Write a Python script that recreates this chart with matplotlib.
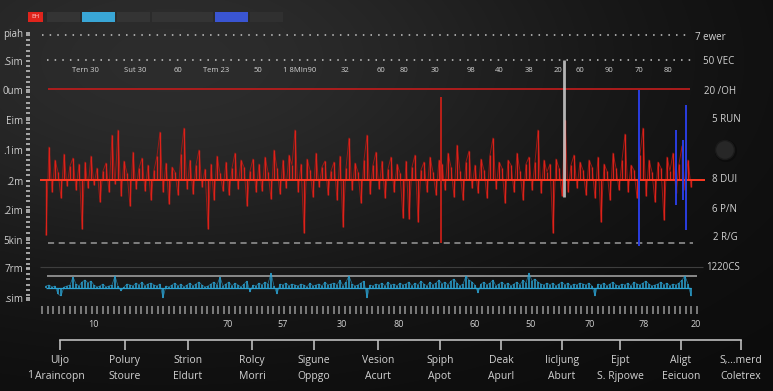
import numpy as np
import matplotlib
matplotlib.use("Agg")
import matplotlib.pyplot as plt
from matplotlib.patches import Rectangle, Circle

# ---------------- data ----------------
red = [
    -55, 33, -12, 20, 8, -18, 26, -6, 14, 22, -10, 16,
    -49, 18, -8, 24, -5, 12, -22, 9, 17, -12, 45, -4,
    50, -16, 19, 7, -26, 28, -9, 12, 22, -11, 15, -20,
    10, 24, 48, -12, 17, -24, 13, 8, -15, 26, 52, -9,
    20, -14, 15, 30, -7, 11, -49, 16, -20, 24, 7, -11,
    18, -15, 12, 27, -9, 20, 13, -26, 9, 21, -12, 16,
    -11, 23, 8, -19, 30, 12, -14, 20, -8, 25, 15, 50,
    -12, 16, -53, 21, 10, -17, 27, -7, 13, 19, -15, 9,
    18, -20, 24, -47, 12, 42, -10, 17, 8, -23, 20, 45,
    -14, 15, 28, -9, 19, -18, 11, 23, -12, 16, 7, -38,
    19, -39, 13, 25, -42, 10, 18, -12, 23, 8, -15, 20,
    16, -10, 27, 13, -17, 35, 9, -20, 18, 29, -8, 15,
    -13, 21, 10, -18, 25, 42, -9, 18, 12, -23, 20, 15,
    -12, 27, 9, -20, 16, 23, -10, 18, 50, -13, 20, 8,
    16, -53, 21, 12, -16, 60, -12, 15, 25, -8, 18, 10,
    -15, 20, 13, -18, 23, -42, 16, 9, -20, 27, 12, -10,
    20, 46, -12, 15, 10, -18, 25, 52, -16, 20, 8, -22,
    18, 12, -40, 23, 9, 27, -13, 16, 34, -10, 20, -7,
]
blue = [
    2, 3, 1, 2, -6, -8, 1, 2, 3, 11, 4, 2,
    6, 8, 5, 7, 3, 1, 2, 4, 1, 2, 3, 12,
    2, -3, 1, 4, 3, 2, 5, 3, 6, 2, 4, 5,
    3, 2, 4, -10, 2, 1, 3, 5, 2, 4, 1, 3,
    5, 2, 4, 6, 3, 1, 2, 4, 6, 3, 11, 2,
    4, 6, 2, 5, 3, 1, 4, 7, -4, 3, 2, 5,
    3, 6, 4, 15, 2, -6, 4, 3, 5, 2, 4, 3,
    2, 4, 3, 1, 5, 2, 3, 4, 2, 6, 3, 4,
    5, 3, 8, 2, 6, 12, 4, 2, 3, 5, 7, -10,
    3, 2, 4, 3, 5, 2, 6, 3, 4, 2, 5, 3,
    4, 6, 2, 5, 3, 7, 4, 2, 6, 3, 5, 8,
    4, 6, 3, 7, 9, 5, 2, 4, 12, 8, 6, 3,
    -5, 4, 6, 3, 5, 8, 2, 4, 6, 3, 5, 2,
    4, 6, 3, 8, 5, 15, 7, 9, 6, 4, 3, 5,
    3, 5, 2, 4, 6, 3, 5, 2, 4, 3, 5, 4,
    3, 5, 2, -8, 4, 3, 5, 2, 4, 6, 3, 2,
    4, 3, 5, 2, 6, 4, 3, 5, 7, 4, 2, 3,
    4, 6, 3, 5, 2, 4, 3, 5, 8, 12, 4, -8,
]
# accent spikes (series index, high, low)
accent_red_x, accent_red_hi, accent_red_lo = [131.7], [83], [-63]
accent_white_x, accent_white_hi, accent_white_lo = [172.7], [120], [-17]
accent_blue_x = [197.7, 210.0, 212.3, 213.3]
accent_blue_hi = [90, 50, 40, 75]
accent_blue_lo = [-66, -25, -20, -50]
# reference levels
level_red = 91
level_dot1 = 145
level_dot2 = 120
level_dash = -63

left_labels = ["piah", ".Sim", "0um", "Eim", ".1im", ".2m", ".2im", "5kin", "7rm", ".sim"]
right_labels = ["7 ewer", "50 VEC", "20 /OH", "5 RUN", "8 DUI", "6 P/N", "2 R/G", "1220CS"]
top_labels = ["Tern 30", "Sut 30", "60", "Tem 23", "50", "1 8MIn90", "32", "60", "80",
              "30", "98", "40", "38", "20", "60", "90", "70", "80"]
scale_labels = ["10", "70", "57", "30", "80", "60", "50", "70", "78", "20"]
cat_top = ["Uljo", "Polury", "Strion", "Rolcy", "Sigune", "Vesion", "Spiph", "Deak",
           "Iicljung", "Ejpt", "Aligt", "S,...merd"]
cat_bottom = ["Araincopn", "Stoure", "Eldurt", "Morri", "Oppgo", "Acurt", "Apot", "Apurl",
              "Aburt", "S. Rjpowe", "Eeicuon", "Coletrex"]

# ---------------- layout ----------------
W, H = 773, 391
plt.rcParams['font.family'] = ['Open Sans', 'DejaVu Sans']
fig = plt.figure(figsize=(W / 100, H / 100), dpi=100)
TXT = '#d2d2d2'


def px_axes(x0, y0, x1, y1):
    a = fig.add_axes([x0 / W, 1 - y1 / H, (x1 - x0) / W, (y1 - y0) / H])
    a.set_facecolor('none')
    return a


# background
bg = fig.add_axes([0, 0, 1, 1])
bg.set_xlim(0, W)
bg.set_ylim(H, 0)
bg.axis('off')
yy, xx = np.mgrid[0:H, 0:W]
g = np.exp(-(((xx - 170) / 450.0) ** 2 + ((yy - 60) / 230.0) ** 2))
v = 0.045 + 0.13 * g
img = np.dstack([v, v, v])
bg.imshow(img, extent=(0, W, H, 0), aspect='auto', zorder=0)

# legend-like boxes
boxes = [(28, 43, '#e0241c'), (47, 80, '#343434'), (82, 115, '#39a6d6'), (117, 150, '#343434'),
         (152, 213, '#343434'), (215, 248, '#3a55d2'), (250, 283, '#303030')]
for x0, x1, c in boxes:
    bg.add_patch(Rectangle((x0, 12), x1 - x0, 10, fc=c, ec='none', zorder=2))
bg.text(35.5, 17, "EH", fontsize=4.5, color='#ffd0d0', ha='center', va='center', zorder=3)

# knob
bg.add_patch(Circle((726, 151), 11, fc='#0c0c0c', ec='none', zorder=2))
bg.add_patch(Circle((725, 150), 9.5, fc='#272727', ec='#1a1a1a', lw=1, zorder=3))

# top row labels
top_x = [85, 135, 178, 216, 258, 300, 345, 381, 404, 435, 471, 499, 529, 558, 580, 609, 639, 668]
for t, xp in zip(top_labels, top_x):
    bg.text(xp, 71, t, fontsize=5.5, color=TXT, ha='center', va='center', zorder=3)

# right labels
right_pos = [(695, 37), (703, 61), (704, 91), (712, 120), (712, 180), (712, 209), (713, 238), (706, 267)]
for t, (xp, ypp) in zip(right_labels, right_pos):
    bg.text(xp, ypp, t, fontsize=7, color=TXT, ha='left', va='center', zorder=3)

bg.text(30, 376, "1", fontsize=7.5, color=TXT, ha='center', va='center', zorder=3)

# ---------------- main red panel ----------------
ax = px_axes(40, 25, 705, 255)
ax.set_xlim(-2, 219.667)
ax.set_ylim(-75, 155)
ax.axis('off')
x = np.arange(len(red))
ax.hlines(level_dot1, -1.33, 214.67, color='#c8c8c8', lw=1.1, linestyles=(0, (1, 4)))
ax.hlines(level_dot2, 0.33, 216.33, color='#c8c8c8', lw=1.1, linestyles=(0, (1, 4)))
ax.hlines(level_red, 0.67, 214.67, color='#b81c1c', lw=1.3)
ax.hlines(level_dash, 0.67, 215.67, color='#9a9a9a', lw=1.1, linestyles=(0, (4, 3)))
ax.plot(x, red, color='#b81812', lw=0.7, alpha=0.8)
ax.vlines(x, 0, red, color='#e3231b', lw=1.0, alpha=0.95)
ax.hlines(0, -2, 219.667, color='#ff3a22', lw=1.4)
ax.vlines(accent_red_x, accent_red_lo, accent_red_hi, color='#d42018', lw=1.2)
ax.vlines(accent_white_x, accent_white_lo, accent_white_hi, color='#cfcfcf', lw=2, alpha=0.85)
ax.vlines(accent_blue_x, accent_blue_lo, accent_blue_hi, color='#2a3ee0', lw=1.4)

# ---------------- blue panel ----------------
axb = px_axes(40, 262, 705, 302)
axb.set_xlim(-2, 219.667)
axb.set_ylim(-14, 26)
axb.axis('off')
xb = np.arange(len(blue))
axb.hlines(21, -2, 219.0, color='#3e3e3e', lw=0.8)
axb.hlines(12, 0.33, 217.0, color='#9d9d9d', lw=1.2)
axb.vlines(xb, 0, blue, color='#2ba3d3', lw=1.1)
axb.plot(xb, blue, color='#2ba3d3', lw=0.5, alpha=0.7)
axb.hlines(0.5, 0, len(blue) - 1, color='#2ba3d3', lw=0.9)

# ---------------- left axis ----------------
axl = px_axes(30, 25, 31, 305)
axl.set_ylim(305, 25)
for s in axl.spines.values():
    s.set_visible(False)
axl.set_xticks([])
left_y = [33, 61, 90, 120, 150, 181, 210, 240, 268, 298]
axl.set_yticks(left_y)
axl.set_yticklabels(left_labels)
axl.set_yticks(np.arange(35, 303, 5.2), minor=True)
axl.tick_params(axis='y', which='both', color='#bdbdbd', length=3, width=1.2,
                labelcolor=TXT, labelsize=7, pad=2)

# ---------------- scale row ----------------
axs = px_axes(40, 309, 705, 310)
axs.set_xlim(40, 705)
for s in axs.spines.values():
    s.set_visible(False)
axs.set_yticks([])
scale_x = [93, 228, 283, 342, 399, 475, 531, 590, 644, 696]
axs.set_xticks(scale_x)
axs.set_xticklabels(scale_labels)
axs.set_xticks(np.arange(42, 697, 5.5), minor=True)
axs.tick_params(axis='x', which='minor', direction='inout', length=6, width=1.2, color='#8c8c8c')
axs.tick_params(axis='x', which='major', length=0, pad=7, labelsize=6.5, labelcolor=TXT)

# ---------------- category bracket ----------------
axc = px_axes(60, 339, 741, 340)
axc.set_xlim(60, 741)
for k, s in axc.spines.items():
    s.set_visible(k == 'bottom')
axc.spines['bottom'].set_color('#bdbdbd')
axc.spines['bottom'].set_linewidth(1.2)
axc.set_yticks([])
cat_x = [60, 125, 188, 252, 314, 378, 440, 501, 562, 620, 681, 741]
axc.set_xticks(cat_x)
axc.set_xticklabels([f"{a}\n{b}" for a, b in zip(cat_top, cat_bottom)])
axc.tick_params(axis='x', direction='out', length=7, width=1.2, color='#bdbdbd',
                labelcolor=TXT, labelsize=7.5, pad=4)
for lbl in axc.get_xticklabels():
    lbl.set_linespacing(1.55)

fig.savefig('out.png', dpi=100)
